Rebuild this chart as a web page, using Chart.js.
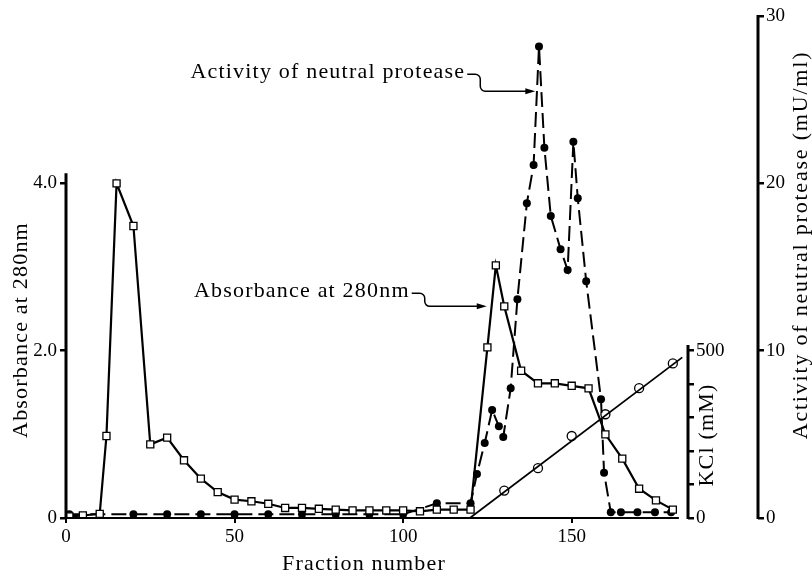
<!DOCTYPE html>
<html>
<head>
<meta charset="utf-8">
<script src="https://cdn.jsdelivr.net/npm/chart.js@4.4.1/dist/chart.umd.min.js"></script>
<style>
html, body { margin: 0; padding: 0; background: #fff; }
#wrap { width: 812px; height: 576px; }
</style>
</head>
<body>
<div id="wrap"><canvas id="chart" width="812" height="576"></canvas></div>
<script>
// Absorbance at 280nm (open squares, solid line)
const absFraction = [1, 5, 10, 12, 15, 20, 25, 30, 35, 40, 45, 50, 55, 60, 65, 70, 75, 80, 85, 90, 95, 100, 105, 110, 115, 120,
    125, 127.5, 130, 135, 140, 145, 150, 155, 160, 165, 170, 175, 180];
const absorbance = [0.02, 0.03, 0.05, 0.98, 4.0, 3.49, 0.88, 0.96, 0.69, 0.47, 0.31, 0.22, 0.2, 0.17, 0.12, 0.12, 0.11, 0.1, 0.09, 0.09, 0.09, 0.09, 0.08, 0.1, 0.1, 0.1,
    2.04, 3.02, 2.53, 1.76, 1.61, 1.61, 1.58, 1.55, 1.0, 0.71, 0.35, 0.21, 0.1];

// Activity of neutral protease, mU/ml (filled circles, dashed line)
const actFraction = [1, 10, 20, 30, 40, 50, 60, 70, 80, 90, 100, 110, 120, 121.9, 124.2, 126.4, 128.4, 129.7, 131.9, 133.9,
    136.7, 138.7, 140.3, 141.9, 143.8, 146.7, 148.8, 150.5, 151.8, 154.3, 158.7, 159.6, 161.6, 164.6, 169.5, 174.7, 179.5];
const activity = [0.22, 0.22, 0.22, 0.22, 0.22, 0.22, 0.22, 0.22, 0.22, 0.22, 0.22, 0.88, 0.88, 2.63, 4.48, 6.46, 5.48, 4.84, 7.75, 13.08,
    18.81, 21.1, 28.17, 22.13, 18.05, 16.06, 14.82, 22.49, 19.11, 14.15, 7.09, 2.71, 0.34, 0.34, 0.34, 0.34, 0.34];

// KCl gradient (line) and measured KCl (open circles), mM
const kclLineFraction = [119.8, 182.8];
const kclLine = [0, 480];
const kclFraction = [130, 140, 150, 160, 170, 180];
const kcl = [82, 149, 245, 310, 388, 462];

// tick labels
const xTicks = [0, 50, 100, 150];
const absTicks = [0, 2, 4];
const kclTicks = [0, 100, 200, 300, 400, 500];
const kclLabelled = [0, 500];
const actTicks = [0, 10, 20, 30];

const serif = '"Liberation Serif", "DejaVu Serif", serif';

function points(xs, ys) {
    return xs.map((x, i) => ({ x: x, y: ys[i] }));
}

function setTicks(values) {
    return scale => { scale.ticks = values.map(v => ({ value: v })); };
}

function vText(ctx, text, x, y) {
    ctx.save();
    ctx.translate(x, y);
    ctx.rotate(-Math.PI / 2);
    ctx.fillText(text, 0, 0);
    ctx.restore();
}

// bent arrow from a label to a curve
function callout(ctx, text, tipX, tipY, run, drop) {
    const cornerX = tipX - run;
    const topY = tipY - drop;
    const startX = cornerX - 13;
    const r = 5;
    ctx.beginPath();
    ctx.moveTo(startX, topY);
    ctx.arcTo(cornerX, topY, cornerX, tipY, r);
    ctx.arcTo(cornerX, tipY, tipX, tipY, r);
    ctx.lineTo(tipX - 8, tipY);
    ctx.stroke();
    ctx.beginPath();
    ctx.moveTo(tipX, tipY);
    ctx.lineTo(tipX - 10, tipY - 3);
    ctx.lineTo(tipX - 10, tipY + 3);
    ctx.closePath();
    ctx.fill();
    ctx.textAlign = 'right';
    ctx.textBaseline = 'middle';
    ctx.fillText(text, startX - 2, topY - 2);
}

const decorations = {
    id: 'decorations',
    afterDraw(chart) {
        const ctx = chart.ctx;
        const s = chart.scales;
        const bottom = s.yAbs.getPixelForValue(0);
        ctx.save();
        ctx.strokeStyle = '#000';
        ctx.fillStyle = '#000';

        // axis lines
        ctx.lineWidth = 2;
        ctx.beginPath();
        ctx.moveTo(s.x.getPixelForValue(0) - 1, bottom);
        ctx.lineTo(s.x.getPixelForValue(181.8), bottom);
        ctx.stroke();
        ctx.lineWidth = 3;
        ctx.beginPath();
        ctx.moveTo(chart.chartArea.left, bottom + 1);
        ctx.lineTo(chart.chartArea.left, s.yAbs.getPixelForValue(4.12));
        ctx.moveTo(s.yKcl.left, bottom + 1);
        ctx.lineTo(s.yKcl.left, s.yKcl.getPixelForValue(517));
        ctx.moveTo(s.yAct.left, s.yAct.getPixelForValue(0) + 1);
        ctx.lineTo(s.yAct.left, s.yAct.getPixelForValue(30) - 1);
        ctx.stroke();

        // axis titles
        ctx.font = '22px ' + serif;
        ctx.letterSpacing = '1.2px';
        ctx.textAlign = 'center';
        ctx.textBaseline = 'middle';
        ctx.fillText('Fraction number', 364, 564);
        vText(ctx, 'Absorbance at 280nm', 21, 330);
        vText(ctx, 'KCl (mM)', 707, 435);
        ctx.letterSpacing = '1.8px';
        vText(ctx, 'Activity of neutral protease (mU/ml)', 801, 245);

        // curve labels
        ctx.letterSpacing = '1.2px';
        ctx.lineWidth = 1.5;
        callout(ctx, 'Activity of neutral protease',
            s.x.getPixelForValue(139.2), s.yAct.getPixelForValue(25.5), 55, 17);
        callout(ctx, 'Absorbance at 280nm',
            s.x.getPixelForValue(124.8), s.yAbs.getPixelForValue(2.53), 62, 13);
        ctx.restore();
    }
};

const tickFont = { family: serif, size: 19 };
const axisGrid = { drawOnChartArea: false, color: '#000', lineWidth: 2.5, tickLength: 6 };

new Chart(document.getElementById('chart'), {
    type: 'line',
    data: {
        datasets: [
            {
                data: points(absFraction, absorbance),
                yAxisID: 'yAbs',
                borderColor: '#000',
                borderWidth: 2.2,
                pointStyle: 'rect',
                pointRadius: 5,
                pointBackgroundColor: '#fff',
                pointBorderColor: '#000',
                pointBorderWidth: 1.3
            },
            {
                data: points(actFraction, activity),
                yAxisID: 'yAct',
                borderColor: '#000',
                borderWidth: 2,
                borderDash: [15, 6],
                pointStyle: 'circle',
                pointRadius: 4,
                pointBackgroundColor: '#000',
                pointBorderColor: '#000',
                pointBorderWidth: 0
            },
            {
                data: points(kclLineFraction, kclLine),
                yAxisID: 'yKcl',
                borderColor: '#000',
                borderWidth: 1.8,
                pointRadius: 0
            },
            {
                data: points(kclFraction, kcl),
                yAxisID: 'yKcl',
                showLine: false,
                pointStyle: 'circle',
                pointRadius: 4.5,
                pointBackgroundColor: '#fff',
                pointBorderColor: '#000',
                pointBorderWidth: 1.3
            }
        ]
    },
    options: {
        responsive: false,
        animation: false,
        devicePixelRatio: 1,
        layout: { padding: { top: 16, left: 0, right: 0, bottom: 0 } },
        plugins: { legend: { display: false }, tooltip: { enabled: false } },
        scales: {
            x: {
                type: 'linear',
                position: 'bottom',
                min: 0,
                max: 184.5,
                afterBuildTicks: setTicks(xTicks),
                afterFit: s => { s.height = 58; },
                ticks: { font: tickFont, color: '#000', padding: 3, maxRotation: 0, autoSkip: false },
                grid: { drawOnChartArea: false, color: '#000', lineWidth: 2, tickLength: 5 },
                border: { display: false }
            },
            yAbs: {
                position: 'left',
                min: 0,
                max: 6,
                afterBuildTicks: setTicks(absTicks),
                afterFit: s => { s.width = 66; },
                ticks: { font: tickFont, color: '#000', padding: 3, autoSkip: false,
                    callback: v => v === 0 ? '0' : v.toFixed(1) },
                grid: axisGrid,
                border: { display: false }
            },
            yKcl: {
                position: 'right',
                weight: 1,
                min: 0,
                max: 1500,
                afterBuildTicks: setTicks(kclTicks),
                afterFit: s => { s.width = 70; },
                ticks: { font: tickFont, color: '#000', padding: 2, autoSkip: false,
                    callback: v => kclLabelled.includes(v) ? String(v) : '' },
                grid: axisGrid,
                border: { display: false }
            },
            yAct: {
                position: 'right',
                weight: 2,
                min: 0,
                max: 30,
                afterBuildTicks: setTicks(actTicks),
                afterFit: s => { s.width = 54; },
                ticks: { font: tickFont, color: '#000', padding: 2, autoSkip: false },
                grid: axisGrid,
                border: { display: false }
            }
        }
    },
    plugins: [decorations]
});
</script>
</body>
</html>
